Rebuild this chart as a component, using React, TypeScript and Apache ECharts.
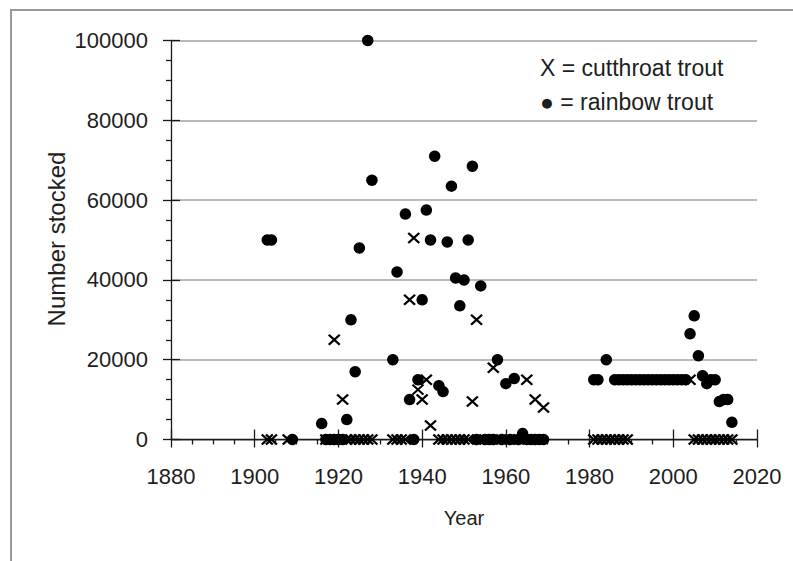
import { useEffect, useRef } from 'react';
import * as echarts from 'echarts';

const rainbowYears = [1903, 1904, 1909, 1916, 1917, 1918, 1919, 1920, 1921, 1922, 1923, 1924, 1925, 1927, 1928, 1933, 1934,
  1936, 1937, 1938, 1939, 1940, 1941, 1942, 1943, 1944, 1945, 1946, 1947, 1948, 1949, 1950, 1951, 1952, 1953, 1954, 1955,
  1956, 1957, 1958, 1959, 1960, 1961, 1962, 1963, 1964, 1965, 1966, 1967, 1968, 1969, 1981, 1982, 1984,
  1986, 1987, 1988, 1989, 1990, 1991, 1992, 1993, 1994, 1995, 1996, 1997, 1998, 1999, 2000, 2001, 2002, 2003,
  2004, 2005, 2006, 2007, 2008, 2009, 2010, 2011, 2012, 2013, 2014];
const rainbowStocked = [50000, 50000, 0, 4000, 0, 0, 0, 0, 0, 5000, 30000, 17000, 48000, 100000, 65000, 20000, 42000,
  56500, 10000, 0, 15000, 35000, 57500, 50000, 71000, 13500, 12000, 49500, 63500, 40500, 33500, 40000, 50000, 68500, 0, 38500, 0,
  0, 0, 20000, 0, 14000, 0, 15300, 0, 1500, 0, 0, 0, 0, 0, 15000, 15000, 20000,
  15000, 15000, 15000, 15000, 15000, 15000, 15000, 15000, 15000, 15000, 15000, 15000, 15000, 15000, 15000, 15000, 15000, 15000,
  26500, 31000, 21000, 16000, 14000, 15000, 15000, 9500, 10000, 10000, 4300];

const cutthroatYears = [1903, 1904, 1908, 1917, 1918, 1919, 1920, 1921, 1922, 1923, 1924, 1925, 1926, 1927, 1928,
  1933, 1934, 1935, 1936, 1937, 1938, 1939, 1940, 1941, 1942,
  1944, 1945, 1946, 1947, 1948, 1949, 1950, 1951, 1952, 1953, 1954, 1955, 1956, 1957, 1958, 1959, 1960, 1961, 1962, 1963,
  1964, 1965, 1966, 1967, 1968, 1969, 1981, 1982, 1983, 1984, 1985, 1986, 1987, 1988, 1989,
  2004, 2005, 2006, 2007, 2008, 2009, 2010, 2011, 2012, 2013, 2014];
const cutthroatStocked = [0, 0, 0, 0, 0, 25000, 0, 10000, 0, 0, 0, 0, 0, 0, 0,
  0, 0, 0, 0, 35000, 50500, 12500, 10000, 15000, 3500,
  0, 0, 0, 0, 0, 0, 0, 0, 9500, 30000, 0, 0, 0, 18000, 0, 0, 0, 0, 0, 0,
  0, 15000, 0, 10000, 0, 8000, 0, 0, 0, 0, 0, 0, 0, 0, 0,
  15000, 0, 0, 0, 0, 0, 0, 0, 0, 0, 0];

const yearTicks = [1880, 1900, 1920, 1940, 1960, 1980, 2000, 2020];
const stockedTicks = [0, 20000, 40000, 60000, 80000, 100000];
const legendLines = ['X = cutthroat trout', '\u25CF = rainbow trout'];
const xTitle = 'Year';
const yTitle = 'Number stocked';

const FONT = "'Liberation Sans', Arial, sans-serif";
const TXT = '#1e1e1e';

export default function App() {
  const ref = useRef<HTMLDivElement>(null);
  useEffect(() => {
    if (!ref.current) return;
    const chart = echarts.init(ref.current, null, { renderer: 'svg' });
    const xMin = yearTicks[0];
    const xMax = yearTicks[yearTicks.length - 1];
    const xInt = yearTicks[1] - yearTicks[0];
    const yMin = stockedTicks[0];
    const yMax = stockedTicks[stockedTicks.length - 1];
    const yInt = stockedTicks[1] - stockedTicks[0];
    const axisLine = { show: true, onZero: false, lineStyle: { color: '#1a1a1a', width: 1.3 } };
    chart.setOption({
      animation: false,
      backgroundColor: '#ffffff',
      grid: { left: 171, right: 36, top: 40.5, bottom: 121.5, containLabel: false },
      xAxis: [
        {
          type: 'value', min: xMin, max: xMax, interval: xInt, position: 'bottom',
          axisLine,
          axisTick: { show: true, length: 8, lineStyle: { color: '#1a1a1a', width: 1.3 } },
          minorTick: { show: true, splitNumber: 4, length: 5, lineStyle: { color: '#1a1a1a', width: 1.3 } },
          splitLine: { show: false },
          axisLabel: { margin: 26, fontSize: 22, fontFamily: FONT, color: TXT, formatter: (v: number) => String(v) },
          name: xTitle, nameLocation: 'middle', nameGap: 68,
          nameTextStyle: { fontSize: 20, fontFamily: FONT, color: TXT },
        },
        {
          type: 'value', min: xMin, max: xMax, interval: xInt, position: 'bottom', offset: 0,
          axisLine: { show: false },
          axisTick: { show: true, inside: true, length: 10, lineStyle: { color: '#1a1a1a', width: 1.3 } },
          splitLine: { show: false }, axisLabel: { show: false },
        },
      ],
      yAxis: [
        {
          type: 'value', min: yMin, max: yMax, interval: yInt, position: 'left',
          axisLine,
          axisTick: { show: true, length: 8, lineStyle: { color: '#1a1a1a', width: 1.3 } },
          minorTick: { show: true, splitNumber: 4, length: 5, lineStyle: { color: '#1a1a1a', width: 1.3 } },
          splitLine: { show: true, lineStyle: { color: '#a3a3a3', width: 1.5 } },
          axisLabel: { margin: 23, fontSize: 22, fontFamily: FONT, color: TXT, formatter: (v: number) => String(v) },
        },
        {
          type: 'value', min: yMin, max: yMax, interval: yInt, position: 'left', offset: 0,
          axisLine: { show: false },
          axisTick: { show: true, inside: true, length: 9, lineStyle: { color: '#1a1a1a', width: 1.3 } },
          splitLine: { show: false }, axisLabel: { show: false },
        },
      ],
      series: [
        {
          name: 'rainbow trout', type: 'scatter', xAxisIndex: 0, yAxisIndex: 0,
          symbol: 'circle', symbolSize: 11.5,
          itemStyle: { color: '#000000', opacity: 1 },
          data: rainbowYears.map((yr, i) => [yr, rainbowStocked[i]]),
        },
        {
          name: 'cutthroat trout', type: 'scatter', xAxisIndex: 0, yAxisIndex: 0,
          symbol: 'path://M0,0L10,10M10,0L0,10', symbolSize: [11, 10],
          itemStyle: { color: '#000000', borderColor: '#000000', borderWidth: 2.2, opacity: 1 },
          data: cutthroatYears.map((yr, i) => [yr, cutthroatStocked[i]]),
        },
      ],
      graphic: [
        {
          type: 'rect', silent: true, z: -1,
          shape: { x: 11, y: 10, width: 820, height: 600 },
          style: { fill: 'none', stroke: '#9a9a9a', lineWidth: 2 },
        },
        {
          type: 'text', x: 56, y: 239, rotation: Math.PI / 2,
          style: { text: yTitle, fontSize: 24, fontFamily: FONT, fill: TXT, textAlign: 'center', textVerticalAlign: 'middle' },
        },
        {
          type: 'text', x: 540, y: 68,
          style: { text: legendLines[0], fontSize: 23, fontFamily: FONT, fill: TXT, textAlign: 'left', textVerticalAlign: 'middle' },
        },
        {
          type: 'text', x: 540, y: 102,
          style: { text: legendLines[1], fontSize: 23, fontFamily: FONT, fill: TXT, textAlign: 'left', textVerticalAlign: 'middle' },
        },
      ],
    });
    return () => chart.dispose();
  }, []);
  return <div ref={ref} style={{ position: 'absolute', left: 0, top: 0, width: 793, height: 561 }} />;
}
